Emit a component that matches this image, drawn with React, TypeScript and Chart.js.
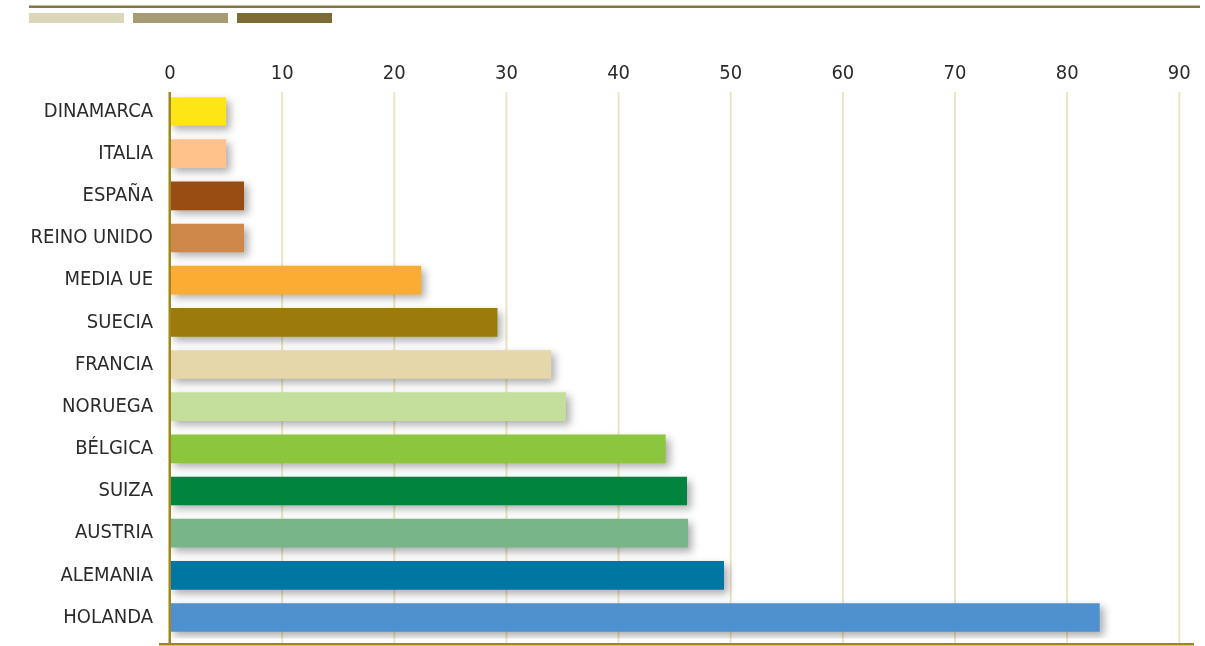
import React, { useEffect, useRef } from "react";
import { Chart, registerables } from "chart.js";

Chart.register(...registerables);

const categories = [
  "DINAMARCA",
  "ITALIA",
  "ESPAÑA",
  "REINO UNIDO",
  "MEDIA UE",
  "SUECIA",
  "FRANCIA",
  "NORUEGA",
  "BÉLGICA",
  "SUIZA",
  "AUSTRIA",
  "ALEMANIA",
  "HOLANDA",
];

const values = [5.0, 5.0, 6.6, 6.6, 22.4, 29.2, 34.0, 35.3, 44.2, 46.1, 46.2, 49.4, 82.9];

const barColors = [
  "#fde516",
  "#fec28a",
  "#9a4d12",
  "#d0884a",
  "#fbad33",
  "#9c7b0c",
  "#e6d7aa",
  "#c4de9c",
  "#8cc63f",
  "#00843e",
  "#78b68a",
  "#0076a3",
  "#4f91ce",
];

const tickValues = [0, 10, 20, 30, 40, 50, 60, 70, 80, 90];

const FONT = "'DejaVu Sans Condensed', 'DejaVu Sans', sans-serif";

const decorPlugin = {
  id: "decor",
  beforeDraw(chart: any) {
    const ctx = chart.ctx;
    ctx.save();
    ctx.fillStyle = "#ffffff";
    ctx.fillRect(0, 0, chart.width, chart.height);
    ctx.fillStyle = "#857540";
    ctx.fillRect(29, 5.5, 1171, 2.5);
    ctx.fillStyle = "#dcd7bb";
    ctx.fillRect(29, 13, 95, 10);
    ctx.fillStyle = "#a69b73";
    ctx.fillRect(133, 13, 95, 10);
    ctx.fillStyle = "#7b6b35";
    ctx.fillRect(237, 13, 95, 10);
    ctx.restore();
  },
  beforeDatasetsDraw(chart: any) {
    const ctx = chart.ctx;
    const xs = chart.scales.x;
    ctx.save();
    ctx.strokeStyle = "#eee3c5";
    ctx.lineWidth = 2;
    for (const v of tickValues) {
      if (v === 0) continue;
      const x = xs.getPixelForValue(v);
      ctx.beginPath();
      ctx.moveTo(x, 92);
      ctx.lineTo(x, 644);
      ctx.stroke();
    }
    ctx.restore();
  },
  beforeDatasetDraw(chart: any) {
    const ctx = chart.ctx;
    ctx.save();
    ctx.shadowColor = "rgba(0,0,0,0.32)";
    ctx.shadowBlur = 8;
    ctx.shadowOffsetX = 4;
    ctx.shadowOffsetY = 4;
  },
  afterDatasetDraw(chart: any) {
    chart.ctx.restore();
  },
  afterDatasetsDraw(chart: any) {
    const ctx = chart.ctx;
    const xs = chart.scales.x;
    const x0 = xs.getPixelForValue(0);
    ctx.save();
    ctx.fillStyle = "#a08620";
    ctx.fillRect(x0 - 1.5, 92, 2.5, 552);
    ctx.fillRect(159, 643, 1035, 2.5);
    ctx.restore();
  },
};

export default function App() {
  const canvasRef = useRef<HTMLCanvasElement | null>(null);

  useEffect(() => {
    const canvas = canvasRef.current;
    if (!canvas) return;
    const chart = new Chart(canvas, {
      type: "bar",
      data: {
        labels: categories,
        datasets: [
          {
            data: values,
            backgroundColor: barColors,
            borderWidth: 0,
            barPercentage: 0.68,
            categoryPercentage: 1,
          },
        ],
      },
      options: {
        indexAxis: "y",
        animation: false,
        responsive: false,
        maintainAspectRatio: false,
        devicePixelRatio: 1,
        layout: { padding: { left: 0, right: 25.7, top: 0, bottom: 7.4 } },
        plugins: {
          legend: { display: false },
          tooltip: { enabled: false },
          title: { display: false },
        },
        scales: {
          x: {
            type: "linear",
            position: "top",
            min: 0,
            max: 90,
            afterBuildTicks(scale: any) {
              scale.ticks = tickValues.map((v) => ({ value: v }));
            },
            afterFit(scale: any) {
              scale.height = 90.4;
              scale.paddingLeft = 0;
              scale.paddingRight = 0;
            },
            grid: { display: false },
            border: { display: false },
            ticks: {
              padding: -3,
              color: "#2b2b2b",
              font: { family: FONT, size: 20 },
              maxRotation: 0,
            },
          },
          y: {
            type: "category",
            position: "left",
            afterFit(scale: any) {
              scale.width = 170;
              scale.paddingTop = 0;
              scale.paddingBottom = 0;
            },
            grid: { display: false },
            border: { display: false },
            ticks: {
              padding: 9,
              color: "#2b2b2b",
              font: { family: FONT, size: 20 },
            },
          },
        },
      },
      plugins: [decorPlugin],
    });
    return () => chart.destroy();
  }, []);

  return (
    <div style={{ position: "fixed", left: 0, top: 0, width: 1205, height: 646, background: "#fff" }}>
      <canvas ref={canvasRef} width={1205} height={646} style={{ display: "block", width: 1205, height: 646 }} />
    </div>
  );
}
